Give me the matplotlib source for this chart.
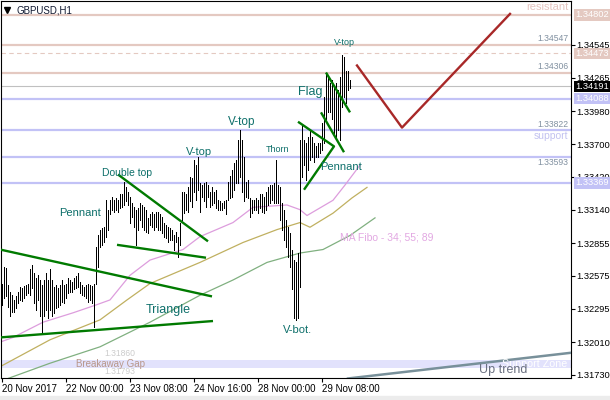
import matplotlib.pyplot as plt
import matplotlib.transforms as mtransforms
from matplotlib.patches import Rectangle

plt.rcParams['font.family'] = ['Liberation Sans', 'DejaVu Sans']

# H1 bars, one per hour, index 0 = 20 Nov 16:00
high = [
    1.3251, 1.3265, 1.3264, 1.3250, 1.3244, 1.3241, 1.3237, 1.3240, 1.3244, 1.3248,
    1.3247, 1.3249, 1.3250, 1.3251, 1.3263, 1.3267, 1.3260, 1.3256, 1.3258, 1.3254,
    1.3250, 1.3254, 1.3260, 1.3254, 1.3263, 1.3254, 1.3248, 1.3250, 1.3247, 1.3250,
    1.3254, 1.3250, 1.3251, 1.3256, 1.3254, 1.3252, 1.3256, 1.3257, 1.3260, 1.3252,
    1.3250, 1.3248, 1.3250, 1.3251, 1.3250, 1.3249, 1.3251, 1.3282, 1.3292, 1.3297,
    1.3298, 1.3299, 1.3322, 1.3314, 1.3322, 1.3325, 1.3322, 1.3324, 1.3322, 1.3327,
    1.3327, 1.3338, 1.3333, 1.3329, 1.3325, 1.3320, 1.3316, 1.3314, 1.3315, 1.3320,
    1.3318, 1.3316, 1.3314, 1.3307, 1.3310, 1.3312, 1.3310, 1.3312, 1.3312, 1.3310,
    1.3308, 1.3303, 1.3301, 1.3299, 1.3298, 1.3297, 1.3292, 1.3295, 1.3291, 1.3303,
    1.3329, 1.3329, 1.3327, 1.3333, 1.3342, 1.3341, 1.3356, 1.3352, 1.3359, 1.3337,
    1.3335, 1.3337, 1.3338, 1.3335, 1.3329, 1.3333, 1.3329, 1.3331, 1.3322, 1.3321,
    1.3320, 1.3321, 1.3322, 1.3338, 1.3343, 1.3348, 1.3354, 1.3356, 1.3373, 1.3382,
    1.3373, 1.3359, 1.3338, 1.3339, 1.3324, 1.3322, 1.3322, 1.3324, 1.3322, 1.3327,
    1.3327, 1.3325, 1.3329, 1.3333, 1.3335, 1.3335, 1.3337, 1.3356, 1.3335, 1.3333,
    1.3320, 1.3314, 1.3305, 1.3299, 1.3294, 1.3280, 1.3271, 1.3269, 1.3277, 1.3373,
    1.3386, 1.3373, 1.3371, 1.3376, 1.3382, 1.3376, 1.3371, 1.3368, 1.3371, 1.3371,
    1.3388, 1.3410, 1.3431, 1.3427, 1.3422, 1.3425, 1.3419, 1.3422, 1.3416, 1.3427,
    1.3446, 1.3444, 1.3432, 1.3432, 1.3425,
]
low = [
    1.3233, 1.3239, 1.3240, 1.3231, 1.3223, 1.3227, 1.3227, 1.3230, 1.3234, 1.3237,
    1.3236, 1.3239, 1.3241, 1.3243, 1.3241, 1.3247, 1.3234, 1.3228, 1.3237, 1.3223,
    1.3209, 1.3223, 1.3228, 1.3222, 1.3228, 1.3223, 1.3226, 1.3230, 1.3231, 1.3233,
    1.3235, 1.3234, 1.3239, 1.3243, 1.3244, 1.3244, 1.3246, 1.3247, 1.3248, 1.3243,
    1.3241, 1.3240, 1.3239, 1.3235, 1.3237, 1.3234, 1.3214, 1.3251, 1.3265, 1.3282,
    1.3284, 1.3286, 1.3291, 1.3297, 1.3310, 1.3314, 1.3312, 1.3314, 1.3312, 1.3315,
    1.3316, 1.3318, 1.3321, 1.3318, 1.3303, 1.3308, 1.3299, 1.3284, 1.3297, 1.3305,
    1.3299, 1.3297, 1.3295, 1.3294, 1.3301, 1.3299, 1.3297, 1.3299, 1.3297, 1.3297,
    1.3294, 1.3291, 1.3290, 1.3286, 1.3288, 1.3288, 1.3280, 1.3286, 1.3274, 1.3284,
    1.3305, 1.3311, 1.3314, 1.3312, 1.3321, 1.3316, 1.3329, 1.3322, 1.3331, 1.3312,
    1.3325, 1.3321, 1.3316, 1.3325, 1.3316, 1.3318, 1.3320, 1.3315, 1.3314, 1.3314,
    1.3314, 1.3315, 1.3310, 1.3322, 1.3324, 1.3325, 1.3331, 1.3337, 1.3337, 1.3342,
    1.3329, 1.3321, 1.3325, 1.3324, 1.3308, 1.3311, 1.3314, 1.3314, 1.3311, 1.3315,
    1.3312, 1.3311, 1.3314, 1.3318, 1.3320, 1.3322, 1.3320, 1.3320, 1.3320, 1.3305,
    1.3297, 1.3288, 1.3282, 1.3274, 1.3265, 1.3246, 1.3222, 1.3220, 1.3222, 1.3248,
    1.3342, 1.3352, 1.3339, 1.3348, 1.3356, 1.3359, 1.3355, 1.3359, 1.3359, 1.3362,
    1.3365, 1.3371, 1.3391, 1.3397, 1.3397, 1.3391, 1.3379, 1.3376, 1.3382, 1.3373,
    1.3402, 1.3410, 1.3405, 1.3416, 1.3418,
]
bars = list(range(len(high)))

# MA Fibo 34 / 55 / 89 (bar index, price)
ma34_x = [-1, 5.5, 20.5, 35.5, 47.5, 54, 64, 74, 90.5, 99, 115.5, 125.5, 142.5, 149, 152.5, 165.5, 171.5, 179]
ma34_y = [1.3201, 1.3205, 1.3218, 1.3226, 1.3233, 1.3237, 1.3258, 1.3271, 1.3280, 1.3291,
          1.3303, 1.3316, 1.3318, 1.3314, 1.3309, 1.3322, 1.3335, 1.3352]
ma55_x = [-1, 24, 49, 62.5, 74, 99, 120.5, 137.5, 149, 154, 165.5, 175, 182.5]
ma55_y = [1.3180, 1.3203, 1.3220, 1.3237, 1.3251, 1.3269, 1.3286, 1.3297, 1.3303, 1.3299,
          1.3311, 1.3324, 1.3333]
ma89_x = [3, 24, 49, 74, 99, 115.5, 132.5, 149, 160.5, 174, 186.5]
ma89_y = [1.3170, 1.3183, 1.3197, 1.3218, 1.3241, 1.3254, 1.3269, 1.3277, 1.3280, 1.3292, 1.3307]

# horizontal levels
resist_levels = [1.34802, 1.34547, 1.34306]
support_levels = [1.34088, 1.33822, 1.33593, 1.33369]
ask_level = 1.34473
bid_level = 1.34191
gap_low, gap_high = 1.31793, 1.31860

# pattern drawings (bar index, price)
triangle_top = ([-1, 105], [1.3280, 1.3240])
triangle_bottom = ([-1, 105.5], [1.3205, 1.3219])
dtop_bottom = ([57.5, 102], [1.3284, 1.3273])
dtop_falling = ([58, 103], [1.3344, 1.3287])
pennant = ([148, 166, 151], [1.3389, 1.3368, 1.3331])
flag_top = ([162, 174], [1.3431, 1.3397])
flag_bottom = ([159.5, 171], [1.3397, 1.3363])
forecast = ([177.5, 200, 254], [1.3437, 1.3384, 1.3481])
up_trend = ([173, 290], [1.3170, 1.3193])

yticks = [1.34545, 1.34265, 1.33980, 1.33700, 1.33420, 1.33140,
          1.32855, 1.32575, 1.32295, 1.32010, 1.31730]
time_ticks = [0, 32, 64, 96, 128, 160]
time_labels = ['20 Nov 2017', '22 Nov 00:00', '23 Nov 08:00',
               '24 Nov 16:00', '28 Nov 00:00', '29 Nov 08:00']

PINK = '#e4c9c1'
LAV = '#c2c2f6'
GREEN = '#007a00'
TEAL = '#0d6f6a'

fig = plt.figure(figsize=(6.1, 4.0), dpi=100)
fig.patches.append(Rectangle((0, 0), 1, 4 / 400, transform=fig.transFigure,
                             color='#ececec', zorder=0))
ax = fig.add_axes([1 / 610, 22 / 400, 570 / 610, 377 / 400])
ax.set_xlim(-0.5, 284.5)
ax.set_ylim(1.31704, 1.34920)

# levels
for lv in resist_levels:
    ax.axhline(lv, color=PINK, lw=1.6, zorder=1)
ax.axhline(ask_level, color=PINK, lw=0.8, ls=(0, (4, 3)), zorder=1)
ax.axhline(bid_level, color='#c0c0c0', lw=0.8, zorder=1)
for lv in support_levels:
    ax.axhline(lv, color=LAV, lw=1.6, zorder=1)
ax.axhspan(gap_low, gap_high, color='#e2e2fc', lw=0, zorder=0.5)

# moving averages
ax.plot(ma34_x, ma34_y, color='#dd9ddd', lw=0.9, zorder=1.5)
ax.plot(ma55_x, ma55_y, color='#c0b060', lw=0.9, zorder=1.5)
ax.plot(ma89_x, ma89_y, color='#80b080', lw=0.9, zorder=1.5)

# bars
ax.vlines(bars, low, high, color='black', lw=0.72, antialiased=False, zorder=2)

# drawings
for xs, ys in [triangle_top, triangle_bottom, dtop_bottom, dtop_falling,
               pennant, flag_top, flag_bottom]:
    ax.plot(xs, ys, color=GREEN, lw=1.7, zorder=3, solid_capstyle='butt')
ax.plot(*forecast, color='#a82828', lw=1.7, zorder=3)
ax.plot(*up_trend, color='#78909a', lw=1.8, zorder=3)

# pattern labels
labels = [
    ('V-top', 171, 1.3457, 6.5), ('Flag', 154, 1.3414, 9), ('V-top', 120, 1.3389, 8.5),
    ('Thorn', 137.5, 1.3365, 6.5), ('Pennant', 169.5, 1.3350, 8), ('V-top', 98.5, 1.3363, 8),
    ('Double top', 62.5, 1.3345, 7.5), ('Pennant', 39, 1.3311, 8),
    ('Triangle', 83, 1.3228, 9), ('V-bot.', 148, 1.3211, 8),
]
for txt, x, y, fs in labels:
    ax.text(x, y, txt, color=TEAL, fontsize=fs, ha='center', va='center', zorder=4)

ax.text(169, 1.3290, 'MA Fibo - 34; 55; 89', color='#e2a8e2', fontsize=7.5,
        ha='left', va='center', zorder=4)
ax.text(283.3, 1.34870, 'resistant', color='#e4c4c0', fontsize=8, ha='right', va='center', zorder=4)
ax.text(283.3, 1.34600, '1.34547', color='#8090a0', fontsize=6.2, ha='right', va='center', zorder=4)
ax.text(283.3, 1.34360, '1.34306', color='#8090a0', fontsize=6.2, ha='right', va='center', zorder=4)
ax.text(283.3, 1.33870, '1.33822', color='#8090a0', fontsize=6.2, ha='right', va='center', zorder=4)
ax.text(283.3, 1.33765, 'support', color='#c2c2f0', fontsize=7.5, ha='right', va='center', zorder=4)
ax.text(283.3, 1.33540, '1.33593', color='#8090a0', fontsize=6.2, ha='right', va='center', zorder=4)
ax.text(54, 1.31826, 'Breakaway Gap', color='#b8968a', fontsize=7, ha='center', va='center', zorder=4)
ax.text(59, 1.31915, '1.31860', color='#cccccc', fontsize=6.2, ha='center', va='center', zorder=4)
ax.text(59, 1.31760, '1.31793', color='#cccccc', fontsize=6.2, ha='center', va='center', zorder=4)
ax.text(266.5, 1.31826, 'Support Zone', color='white', fontsize=7.7, ha='center', va='center', zorder=4)
ax.text(250.5, 1.31770, 'Up trend', color='#6a7080', fontsize=9, ha='center', va='center', zorder=4)

# title
ax.plot([0.0105], [0.976], marker='v', ms=4, color='black', transform=ax.transAxes,
        clip_on=False, zorder=5)
ax.text(0.027, 0.976, 'GBPUSD,H1', color='#101830', fontsize=7, ha='left', va='center',
        transform=ax.transAxes, zorder=5)

# axes styling
for sp in ax.spines.values():
    sp.set_linewidth(0.8)
    sp.set_color('black')
ax.yaxis.tick_right()
ax.set_yticks(yticks)
ax.set_yticklabels(['%.5f' % v for v in yticks])
ax.set_xticks(time_ticks)
ax.set_xticklabels(time_labels)
for lbl in ax.get_xticklabels():
    lbl.set_ha('left')
ax.tick_params(axis='y', length=3, width=0.8, pad=0.6, labelsize=6.7, colors='black')
ax.tick_params(axis='x', length=3, width=0.8, pad=1.5, labelsize=7, colors='black')

# price boxes on the right scale
trans = mtransforms.blended_transform_factory(ax.transAxes, ax.transData)
price_boxes = [(1.34802, PINK, 'white'), (1.34473, PINK, 'white'), (1.34191, 'black', 'white'),
               (1.34088, LAV, 'white'), (1.33369, LAV, 'white')]
for price, bg, fg in price_boxes:
    ax.text(1.0075, price, '%.5f' % price, color=fg, fontsize=6.7, ha='left', va='center',
            transform=trans, clip_on=False, zorder=6,
            bbox=dict(boxstyle='square,pad=0.15', fc=bg, ec='none'))

fig.savefig('out.png', dpi=100)
